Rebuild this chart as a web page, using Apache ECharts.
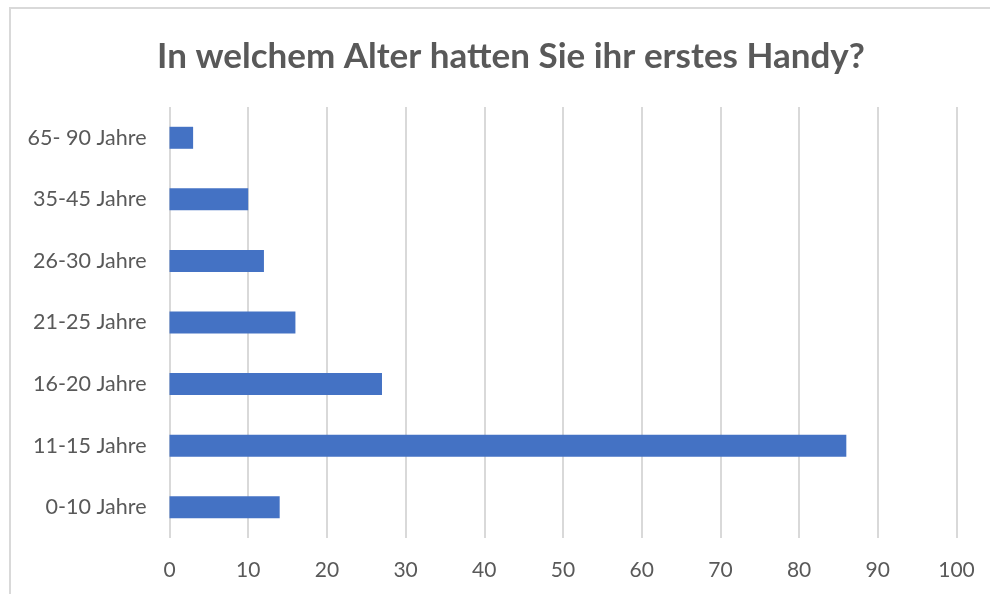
<!DOCTYPE html>
<html>
<head>
<meta charset="utf-8">
<script src="https://cdn.jsdelivr.net/npm/echarts@6/dist/echarts.min.js"></script>
<style>
  html, body { margin: 0; padding: 0; background: #fff; }
  #chart { width: 990px; height: 594px; }
</style>
</head>
<body>
<div id="chart"></div>
<script>
const titleText = 'In welchem Alter hatten Sie ihr erstes Handy?';
const categories = ['0-10 Jahre', '11-15 Jahre', '16-20 Jahre', '21-25 Jahre', '26-30 Jahre', '35-45 Jahre', '65- 90 Jahre'];
const counts = [14, 86, 27, 16, 12, 10, 3];
const xTicks = { min: 0, max: 100, interval: 10 };

const FONT = 'Lato';
const GREY = '#595959';

const chart = echarts.init(document.getElementById('chart'), null, { renderer: 'canvas' });
chart.setOption({
  backgroundColor: '#ffffff',
  animation: false,
  title: {
    text: titleText,
    left: 506,
    top: 34,
    textAlign: 'center',
    textStyle: { fontFamily: FONT, fontWeight: 'bold', fontSize: 35, color: GREY }
  },
  graphic: [{
    type: 'rect',
    silent: true,
    shape: { x: 10, y: 8, width: 1000, height: 620 },
    style: { fill: 'none', stroke: '#d9d9d9', lineWidth: 2 }
  }],
  grid: { left: 169.5, right: 33.5, top: 107, bottom: 56, containLabel: false },
  xAxis: {
    type: 'value',
    min: xTicks.min,
    max: xTicks.max,
    interval: xTicks.interval,
    axisLine: { show: false },
    axisTick: { show: false },
    splitLine: { show: true, lineStyle: { color: '#d9d9d9', width: 2 } },
    axisLabel: { margin: 22, fontFamily: FONT, fontSize: 21, color: GREY }
  },
  yAxis: {
    type: 'category',
    data: categories,
    axisLine: { show: false },
    axisTick: { show: false },
    splitLine: { show: false },
    axisLabel: { margin: 23, fontFamily: FONT, fontSize: 21.5, color: GREY }
  },
  series: [{
    type: 'bar',
    data: counts,
    barWidth: 22,
    itemStyle: { color: '#4472C4' }
  }]
});
</script>
</body>
</html>
